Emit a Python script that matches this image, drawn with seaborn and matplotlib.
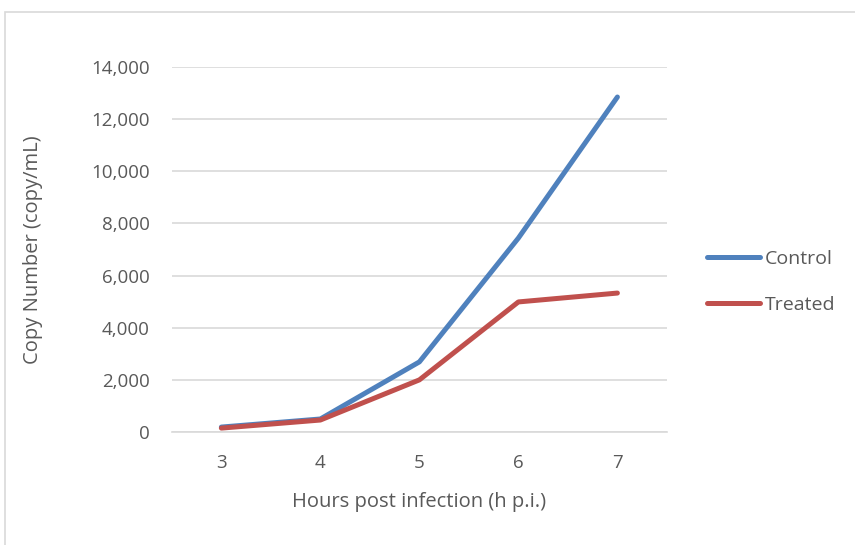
import matplotlib
matplotlib.use("Agg")
import matplotlib.pyplot as plt
import seaborn as sns
import pandas as pd
from matplotlib.patches import Rectangle
from matplotlib.lines import Line2D
from matplotlib.ticker import FuncFormatter

hours = [3, 4, 5, 6, 7]
control = [190, 500, 2690, 7440, 12850]
treated = [150, 460, 2000, 4990, 5330]
yticks = [0, 2000, 4000, 6000, 8000, 10000, 12000, 14000]

df = pd.DataFrame({
    "hours": hours * 2,
    "value": control + treated,
    "series": ["Control"] * len(hours) + ["Treated"] * len(hours),
})

sns.set_style("white")
plt.rcParams['font.family'] = ['Open Sans', 'DejaVu Sans']

fig = plt.figure(figsize=(8.55, 5.45), dpi=100)
ax = fig.add_axes([0.201, 0.2073, 0.579, 0.6697])

fig.patches.append(Rectangle((5 / 855, -0.1), 1.2, 1 - 12 / 545 + 0.1, transform=fig.transFigure,
                             fill=False, edgecolor="#d9d9d9", linewidth=1.2))

sns.lineplot(data=df, x="hours", y="value", hue="series",
             palette={"Control": "#4F81BD", "Treated": "#C0504D"},
             linewidth=3.6, ax=ax, legend=False, solid_capstyle="round")

ax.set_xlim(2.5, 7.5)
ax.set_ylim(0, 14000)
ax.set_xticks(hours)
ax.set_yticks(yticks)
ax.yaxis.set_major_formatter(FuncFormatter(lambda v, p: f"{int(v):,}"))
ax.grid(axis="y", color="#d9d9d9", linewidth=1.2)
ax.set_axisbelow(True)
for s in ["top", "right", "left"]:
    ax.spines[s].set_visible(False)
ax.spines["bottom"].set_color("#d9d9d9")
ax.spines["bottom"].set_linewidth(1.2)
ax.tick_params(axis="both", length=0, labelsize=13.5, labelcolor="#595959")
ax.tick_params(axis="x", pad=16)
ax.tick_params(axis="y", pad=16)
ax.set_xlabel("Hours post infection (h p.i.)", fontsize=14.5, color="#595959")
ax.set_ylabel("Copy Number (copy/mL)", fontsize=14.5, color="#595959")
ax.xaxis.set_label_coords(0.5, (432 - 502) / 365 + 0.0, transform=ax.transAxes)
ax.yaxis.set_label_coords((33 - 172) / 495, 0.5, transform=ax.transAxes)
ax.xaxis.label.set_va("center")
ax.yaxis.label.set_va("center")

handles = [Line2D([], [], color="#4F81BD", linewidth=3.6, solid_capstyle="round"),
           Line2D([], [], color="#C0504D", linewidth=3.6, solid_capstyle="round")]
leg = fig.legend(handles, ["Control", "Treated"], loc="center left",
                 bbox_to_anchor=(0.806, 0.483), frameon=False, fontsize=14,
                 labelcolor="#595959", handlelength=2.75, handletextpad=0.25,
                 labelspacing=1.45)

fig.savefig("out.png", dpi=100)
